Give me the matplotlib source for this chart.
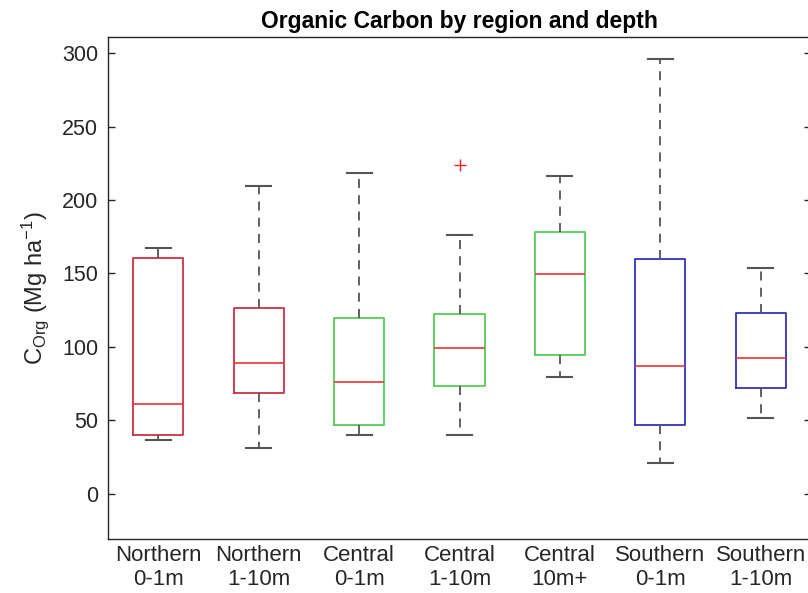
import matplotlib
matplotlib.use("Agg")
import matplotlib.pyplot as plt

plt.rcParams['font.family'] = ['Liberation Sans', 'DejaVu Sans']
plt.rcParams['mathtext.default'] = 'regular'

categories = ["Northern\n0-1m", "Northern\n1-10m", "Central\n0-1m", "Central\n1-10m",
              "Central\n10m+", "Southern\n0-1m", "Southern\n1-10m"]
whisker_low = [36.8, 30.9, 40.2, 40.0, 79.5, 21.1, 51.5]
q1 = [40.0, 68.4, 47.0, 73.2, 94.1, 46.4, 71.8]
medians = [60.7, 89.3, 76.1, 99.3, 149.8, 86.6, 92.2]
q3 = [160.4, 126.8, 119.7, 122.2, 178.6, 160.2, 123.2]
whisker_high = [167.2, 209.5, 218.6, 176.3, 216.6, 295.9, 153.4]
outliers = [[], [], [], [224.0], [], [], []]
region_colors = ["#cc3344", "#cc3344", "#55cc55", "#55cc55", "#55cc55", "#3333bb", "#3333bb"]
yticks = [0, 50, 100, 150, 200, 250, 300]

fig = plt.figure(figsize=(8.08, 5.93), dpi=100)
ax = fig.add_axes([108/808, 1-539/593, (811-108)/808, (539-37.3)/593])

stats = []
for i in range(len(categories)):
    stats.append(dict(med=medians[i], q1=q1[i], q3=q3[i],
                      whislo=whisker_low[i], whishi=whisker_high[i],
                      fliers=outliers[i], label=categories[i]))

bp = ax.bxp(stats, positions=range(1, len(categories)+1), widths=0.5,
            showfliers=True, capwidths=0.25,
            whiskerprops=dict(color='#555555', linestyle=(0, (5, 4)), linewidth=1.3),
            capprops=dict(color='#555555', linewidth=1.5),
            medianprops=dict(color='#ee3333', linewidth=1.2),
            flierprops=dict(marker='+', markeredgecolor='#ee2222', markersize=9,
                            markeredgewidth=1.0, linestyle='none'))
for box, c in zip(bp['boxes'], region_colors):
    box.set_color(c)
    box.set_linewidth(1.3)

ax.set_xlim(0.5, 7.5)
ax.set_ylim(-31, 311)
ax.set_yticks(yticks)
ax.tick_params(axis='y', direction='in', length=5, right=True, labelsize=15.5,
               colors='#262626', width=1, pad=7)
ax.tick_params(axis='x', length=0, labelsize=16, colors='#262626', pad=4)
for s in ax.spines.values():
    s.set_color('#262626')
    s.set_linewidth(1.0)

ax.set_ylabel(r'C$_{Org}$ (Mg ha$^{-1}$)', fontsize=17, color='#262626', labelpad=8)
ax.set_title('Organic Carbon by region and depth', fontsize=16.5, fontweight='bold', pad=7)

fig.savefig('out.png', dpi=100)
